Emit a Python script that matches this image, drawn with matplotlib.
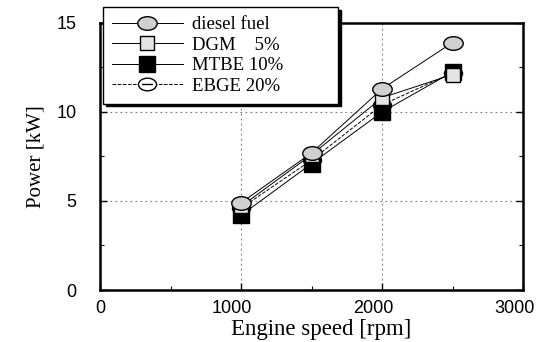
import matplotlib.pyplot as plt
import matplotlib.transforms as mtransforms
from matplotlib.path import Path
import numpy as np

# engine speed [rpm] and power [kW]
speed = [1000, 1500, 2000, 2500]
diesel = [4.9, 7.7, 11.3, 13.9]
dgm = [4.7, 7.6, 10.8, 12.1]
mtbe = [4.2, 7.1, 10.0, 12.25]
ebge = [4.6, 7.3, 10.4, 12.2]

labels = ['diesel fuel', 'DGM    5%', 'MTBE 10%', 'EBGE 20%']

plt.rcParams['font.family'] = ['Liberation Serif', 'DejaVu Serif']

# flattened circle markers like the scanned figure
circ = Path.unit_circle()
ellipse = Path(circ.vertices * [1.0, 0.7], circ.codes)
dash = Path([[-0.6, 0], [0.6, 0]], [Path.MOVETO, Path.LINETO])
ellipse_dash = Path.make_compound_path(ellipse, dash)

fig = plt.figure(figsize=[5.41, 3.42], dpi=100)
ax = fig.add_axes([0.185, 0.152, 0.782, 0.781])

ax.plot(speed, diesel, '-', color='black', lw=0.7, marker=ellipse, ms=14,
        mfc='#d0d0d0', mec='black', mew=1.0, label=labels[0], zorder=5)
ax.plot(speed, dgm, '-', color='black', lw=0.7, marker='s', ms=10,
        mfc='#e4e4e4', mec='black', mew=1.0, label=labels[1], zorder=4)
ax.plot(speed, mtbe, '-', color='black', lw=0.7, marker='s', ms=11,
        mfc='black', mec='black', label=labels[2], zorder=3)
ax.plot(speed, ebge, '--', color='black', lw=0.7, marker=ellipse_dash, ms=13,
        mfc='white', mec='black', mew=1.0, label=labels[3], zorder=2)

ax.set_xlim(0, 3000)
ax.set_ylim(0, 15)
ax.set_xticks([0, 1000, 2000, 3000])
ax.set_yticks([0, 5, 10, 15])
ax.set_xticks([500, 1500, 2500], minor=True)
ax.set_yticks([2.5, 7.5, 12.5], minor=True)
ax.tick_params(which='both', direction='in', top=False, right=True)
ax.tick_params(which='major', length=5, width=1)
ax.tick_params(which='minor', length=3, width=0.8)
ax.tick_params(axis='x', pad=7)
ax.tick_params(axis='y', pad=17)
for lab in ax.get_xticklabels() + ax.get_yticklabels():
    lab.set_family(['Liberation Sans', 'DejaVu Sans'])
    lab.set_fontsize(13)
# the scanned tick labels sit a little left of their ticks
shift = mtransforms.ScaledTranslation(-9 / 100, 0, fig.dpi_scale_trans)
for tick in ax.xaxis.get_major_ticks()[1:]:
    tick.label1.set_transform(tick.label1.get_transform() + shift)

for s in ax.spines.values():
    s.set_linewidth(1.8)

ax.grid(visible=True, which='major', ls=(0, (1.5, 3)), color='#777777', lw=0.8)

ax.set_xlabel('Engine speed [rpm]', fontdict={'fontsize': 16.5})
ax.xaxis.set_label_coords(0.522, -0.108)
ax.set_ylabel('Power [kW]', fontdict={'fontsize': 15}, labelpad=8)

legend = ax.legend(loc='upper left', bbox_to_anchor=(0.007, 0.69, 0.556, 0.368),
                   mode='expand', prop={'size': 13.5}, fancybox=False,
                   shadow={'color': 'black', 'alpha': 1},
                   edgecolor='black', framealpha=1, handlelength=3.8,
                   borderpad=0.47, labelspacing=0.18, handletextpad=0.5,
                   borderaxespad=0)
legend.get_frame().set_linewidth(1.0)
legend.set_zorder(10)

plt.savefig('out.png', dpi=100)
